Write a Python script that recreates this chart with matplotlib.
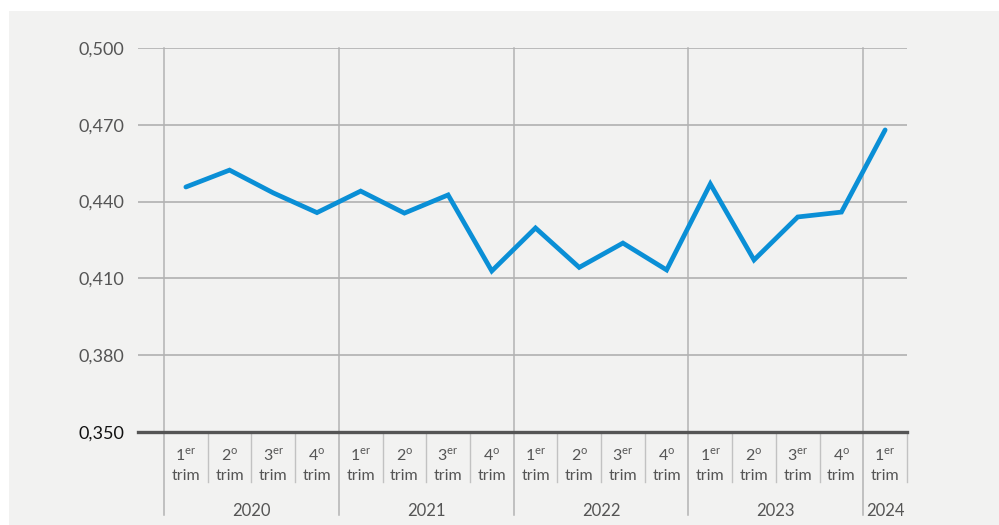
import matplotlib
matplotlib.use("Agg")
import matplotlib.pyplot as plt
from matplotlib.patches import Rectangle
import matplotlib.transforms as mtransforms

plt.rcParams['font.family'] = ['Lato', 'DejaVu Sans']
plt.rcParams['mathtext.fontset'] = 'custom'
plt.rcParams['mathtext.rm'] = 'Lato'

# data
years = ["2020", "2021", "2022", "2023", "2024"]
quarters_per_year = [4, 4, 4, 4, 1]
quarter_labels = ["1$^{\\mathrm{er}}$", "2$^{\\mathrm{o}}$", "3$^{\\mathrm{er}}$", "4$^{\\mathrm{o}}$"]
values = [0.4457, 0.4523, 0.4434, 0.4357, 0.4441, 0.4355, 0.4426, 0.4129,
          0.4297, 0.4143, 0.4238, 0.4133, 0.4469, 0.4172, 0.4340, 0.4359, 0.4680]
yticks = [0.350, 0.380, 0.410, 0.440, 0.470, 0.500]

W, H = 999, 525
fig = plt.figure(figsize=(W / 100, H / 100), dpi=100)
fig.patch.set_facecolor("white")
fig.patches.append(Rectangle((9 / W, 0), 1, 1 - 11 / H, transform=fig.transFigure,
                             facecolor="#f2f2f1", edgecolor="none", zorder=-10))

ax = fig.add_axes([138 / W, (H - 432) / H, (907 - 138) / W, (432 - 48) / H])
ax.set_facecolor("none")
n = len(values)
x = list(range(n))
ax.set_xlim(-1.095, n - 0.5)
ax.set_ylim(0.35, 0.5)

for s in ["top", "right", "left"]:
    ax.spines[s].set_visible(False)
ax.spines["bottom"].set_color("#555555")
ax.spines["bottom"].set_linewidth(2.4)
ax.spines["bottom"].set_zorder(5)

for yv in yticks[1:]:
    ax.axhline(yv, color="#ababab", lw=1.1, zorder=1)

ax.set_yticks(yticks)
ax.set_yticklabels([f"{v:.3f}".replace(".", ",") for v in yticks])
ax.tick_params(axis="y", length=0, pad=10, labelsize=13, labelcolor="#555555")
ax.get_yticklabels()[0].set_color("#111111")
ax.set_xticks([])

trans = mtransforms.blended_transform_factory(ax.transData, ax.transAxes)
px = 1 / 384  # one pixel in axes-y units

# year boundaries (full height, extend below)
b = -0.5
bounds = [b]
for q in quarters_per_year:
    b += q
    bounds.append(b)
for bx in bounds[:-1]:
    ax.plot([bx, bx], [1, -83 * px], color="#b3b3b3", lw=1.1, transform=trans,
            clip_on=False, zorder=1)
# quarter separators below axis
for k in range(n):
    bx = k + 0.5
    if bx in bounds[:-1]:
        continue
    ax.plot([bx, bx], [0, -50 * px], color="#c2c2c2", lw=1.0, transform=trans,
            clip_on=False, zorder=1)

# quarter labels
i = 0
for q in quarters_per_year:
    for j in range(q):
        ax.text(i, -23 * px, quarter_labels[j], transform=trans, ha="center",
                va="center", fontsize=11.5, color="#555555")
        ax.text(i, -44 * px, "trim", transform=trans, ha="center",
                va="center", fontsize=11.5, color="#555555")
        i += 1
# year labels
for yr, lo, hi in zip(years, bounds[:-1], bounds[1:]):
    ax.text((lo + hi) / 2, -79 * px, yr, transform=trans, ha="center",
            va="center", fontsize=12, color="#555555")

ax.plot(x, values, color="#0a8fd6", lw=3.4, solid_capstyle="round",
        solid_joinstyle="miter", zorder=4)

fig.savefig("out.png", dpi=100, facecolor=fig.get_facecolor())
